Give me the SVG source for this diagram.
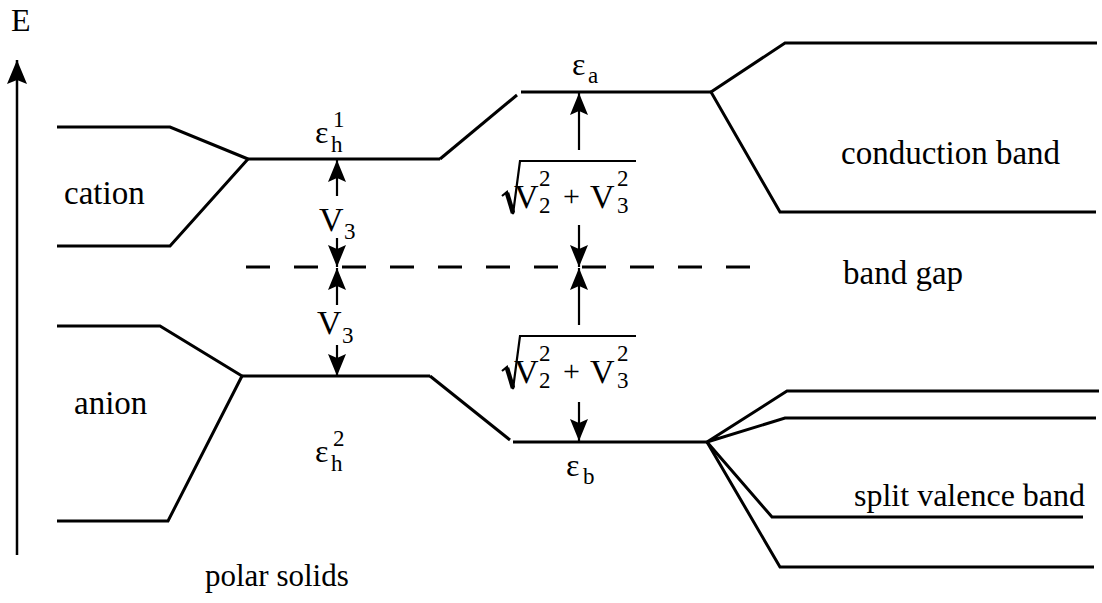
<svg xmlns="http://www.w3.org/2000/svg" width="1102" height="603" viewBox="0 0 1102 603">
<style>
  .lvl{fill:none;stroke:#000;stroke-width:3;stroke-linejoin:miter;stroke-linecap:butt}
  .arr{fill:none;stroke:#000;stroke-width:2.2;marker-end:url(#ah)}
  .dash{fill:none;stroke:#000;stroke-width:3;stroke-dasharray:24 24}
  .t{font-family:"Liberation Serif","Times New Roman",serif;font-size:33px;fill:#000}
  .v{font-family:"Liberation Serif","Times New Roman",serif;font-size:34px;fill:#000}
  .g{font-family:"Liberation Serif","Times New Roman",serif;font-size:32px;fill:#000}
  .s{font-family:"Liberation Serif","Times New Roman",serif;font-size:23px;fill:#000}
  .rad{fill:none;stroke:#000;stroke-width:2.2}
</style>
<defs>
  <marker id="ah" viewBox="0 0 22 18" refX="22" refY="9" markerWidth="22" markerHeight="18" markerUnits="userSpaceOnUse" orient="auto">
    <path d="M22,9 L0,0 L4,9 L0,18 Z" fill="#000"/>
  </marker>
  <marker id="ahBig" viewBox="0 0 24 20" refX="24" refY="10" markerWidth="24" markerHeight="20" markerUnits="userSpaceOnUse" orient="auto">
    <path d="M24,10 L0,0 L4,10 L0,20 Z" fill="#000"/>
  </marker>
</defs>

<g id="axis">
  <line x1="17" y1="555" x2="17" y2="60" stroke="#000" stroke-width="2.5" marker-end="url(#ahBig)"/>
  <text class="t" x="11" y="31" style="font-size:32px">E</text>
</g>

<g id="cation">
  <polyline class="lvl" points="57,127 170,127 248,159"/>
  <polyline class="lvl" points="57,246 170,246 248,159"/>
  <text class="t" x="64" y="204">cation</text>
</g>

<g id="anion">
  <polyline class="lvl" points="57,326 160,326 242,376"/>
  <polyline class="lvl" points="57,521 168,521 242,376"/>
  <text class="t" x="74" y="414">anion</text>
</g>

<g id="eh1">
  <line class="lvl" x1="248" y1="159" x2="440" y2="159"/>
  <text class="g" x="315" y="143">ε</text>
  <text class="s" x="331" y="152">h</text>
  <text class="s" x="333" y="127">1</text>
</g>

<g id="eh2">
  <line class="lvl" x1="242" y1="376" x2="430" y2="376"/>
  <text class="g" x="315" y="462">ε</text>
  <text class="s" x="331" y="471">h</text>
  <text class="s" x="333" y="446">2</text>
</g>

<g id="ea">
  <line class="lvl" x1="521" y1="92" x2="711" y2="92"/>
  <text class="g" x="572" y="75">ε</text>
  <text class="s" x="588" y="83">a</text>
</g>

<g id="eb">
  <line class="lvl" x1="513" y1="442" x2="708" y2="442"/>
  <text class="g" x="566" y="476">ε</text>
  <text class="s" x="583" y="484">b</text>
</g>

<g id="conduction-band">
  <polyline class="lvl" points="1097,43 785,43 711,92 780,212 1096,212"/>
  <text class="t" x="841" y="164">conduction band</text>
</g>

<g id="band-gap">
  <line class="dash" x1="246" y1="267" x2="752" y2="267"/>
  <text class="t" x="843" y="284">band gap</text>
</g>

<g id="split-valence-band">
  <polyline class="lvl" points="1099,391 787,391 707,442 785,418 1096,418"/>
  <polyline class="lvl" points="707,442 772,517 1083,517"/>
  <polyline class="lvl" points="707,442 780,567 1094,567"/>
  <text class="t" x="854" y="506" style="font-size:32px">split valence band</text>
</g>

<g id="polar-solids">
  <text class="t" x="205" y="586" style="font-size:31px">polar solids</text>
</g>

<g id="connectors">
  <line class="lvl" x1="440" y1="159" x2="517" y2="95"/>
  <line class="lvl" x1="430" y1="376" x2="510" y2="440"/>
  <line class="arr" x1="337" y1="196" x2="337" y2="160"/>
  <line class="arr" x1="337" y1="238" x2="337" y2="267"/>
  <line class="arr" x1="337" y1="305" x2="337" y2="268"/>
  <line class="arr" x1="337" y1="345" x2="337" y2="376"/>
  <line class="arr" x1="579" y1="150" x2="579" y2="93"/>
  <line class="arr" x1="579" y1="225" x2="579" y2="267"/>
  <line class="arr" x1="579" y1="325" x2="579" y2="268"/>
  <line class="arr" x1="579" y1="402" x2="579" y2="441"/>
</g>

<g id="label-v3-top">
  <text class="v" x="319" y="231">V</text>
  <text class="s" x="344" y="239">3</text>
</g>
<g id="label-v3-bottom">
  <text class="v" x="317" y="334">V</text>
  <text class="s" x="342" y="343">3</text>
</g>

<g id="label-sqrt-top">
  <path class="rad" d="M502,196 L507,192 L513,214 L520,161 L636,161"/>
  <line x1="507" y1="193" x2="513" y2="213" stroke="#000" stroke-width="4.5"/>
  <text class="v" x="514" y="208">V</text>
  <text class="s" x="539" y="213">2</text>
  <text class="s" x="539" y="186">2</text>
  <text class="v" x="563" y="206" style="font-size:30px">+</text>
  <text class="v" x="590" y="208">V</text>
  <text class="s" x="617" y="213">3</text>
  <text class="s" x="617" y="186">2</text>
</g>
<g id="label-sqrt-bottom" transform="translate(0,175)">
  <path class="rad" d="M502,196 L507,192 L513,214 L520,161 L636,161"/>
  <line x1="507" y1="193" x2="513" y2="213" stroke="#000" stroke-width="4.5"/>
  <text class="v" x="514" y="208">V</text>
  <text class="s" x="539" y="213">2</text>
  <text class="s" x="539" y="186">2</text>
  <text class="v" x="563" y="206" style="font-size:30px">+</text>
  <text class="v" x="590" y="208">V</text>
  <text class="s" x="617" y="213">3</text>
  <text class="s" x="617" y="186">2</text>
</g>
</svg>
